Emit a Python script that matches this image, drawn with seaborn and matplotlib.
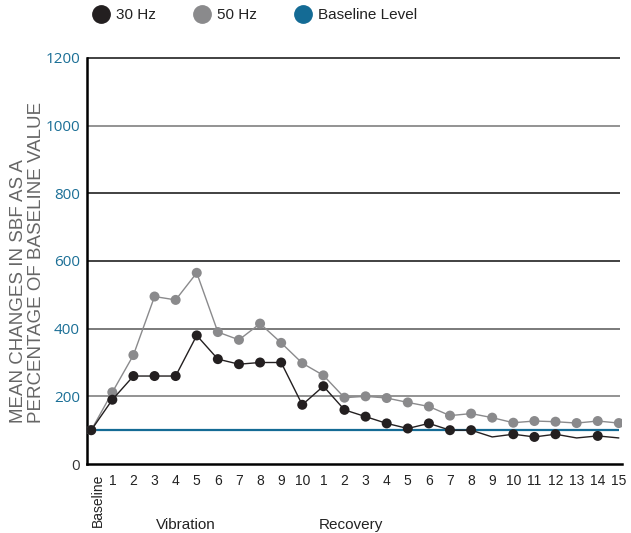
import matplotlib
matplotlib.use("Agg")
import matplotlib.pyplot as plt
import matplotlib.transforms as mtransforms
from matplotlib.lines import Line2D
import numpy as np
import pandas as pd
import seaborn as sns

# datos
tick_labels = ["Baseline"] + [str(i) for i in range(1, 11)] + [str(i) for i in range(1, 16)]
hz30 = [100, 190, 260, 260, 260, 380, 310, 295, 300, 300, 175,
        230, 160, 140, 120, 105, 120, 100, 100, 80, 88, 80, 88, 77, 83, 77]
hz50 = [100, 212, 322, 495, 485, 565, 390, 367, 415, 358, 298,
        262, 196, 200, 195, 182, 170, 143, 149, 137, 122, 127, 125, 121, 127, 121]
baseline_level = 100
# puntos de 30 Hz sin marcador en el original
sin_marcador_30 = [19, 23, 25]
y_ticks = [0, 200, 400, 600, 800, 1000, 1200]

df = pd.DataFrame({"pos": np.arange(len(tick_labels)), "hz30": hz30, "hz50": hz50})

sns.set_style("white")
plt.rcParams["font.family"] = ["Liberation Sans", "DejaVu Sans"]

fig = plt.figure(figsize=(6.31, 5.33), dpi=100)
ax = fig.add_axes([87 / 631, 1 - 464 / 533, 535 / 631, 406 / 533])

negro = "#231f20"
gris = "#8a8a8c"
azul = "#146b95"

# cuadrícula horizontal (en el original unas líneas salen más claras que otras)
colores_grid = ["#8a8a8a", "#707070", "#333333", "#333333", "#8a8a8a", "#333333"]
for y, c in zip(y_ticks[1:], colores_grid):
    ax.hlines(y, -0.2, 25.05, colors=c, linewidth=1.3, clip_on=False, zorder=1)
ax.hlines(baseline_level, 0, 25, colors=azul, linewidth=1.6, zorder=2)

sns.lineplot(data=df, x="pos", y="hz50", color=gris, linewidth=1.0, ax=ax, zorder=3)
sns.scatterplot(data=df, x="pos", y="hz50", color=gris, s=52, edgecolor="none", ax=ax, zorder=4)
sns.lineplot(data=df, x="pos", y="hz30", color=negro, linewidth=1.0, ax=ax, zorder=5)
df30 = df.drop(index=sin_marcador_30)
sns.scatterplot(data=df30, x="pos", y="hz30", color=negro, s=52, edgecolor="none", ax=ax, zorder=6)

ax.set_xlim(-0.2, 25.15)
ax.set_ylim(0, 1200)
ax.set_xlabel("")
ax.set_ylabel("")

for s in ["top", "right"]:
    ax.spines[s].set_visible(False)
for s in ["left", "bottom"]:
    ax.spines[s].set_color("black")
    ax.spines[s].set_linewidth(1.8)

ax.set_xticks(df["pos"])
ax.set_xticklabels(tick_labels, fontsize=10, color="#222222")
ax.set_yticks(y_ticks)
ax.set_yticklabels([str(v) for v in y_ticks], fontsize=11, color="#1b6f96",
                   family=["Open Sans", "DejaVu Sans"])
ax.get_yticklabels()[0].set_color("#333333")
ax.tick_params(axis="both", length=0)
ax.tick_params(axis="x", pad=7)
ax.tick_params(axis="y", pad=5)

lab0 = ax.get_xticklabels()[0]
lab0.set_rotation(90)
lab0.set_transform(lab0.get_transform() + mtransforms.ScaledTranslation(5 / 72, 0, fig.dpi_scale_trans))

ax.text(4.5, -0.15, "Vibration", transform=ax.get_xaxis_transform(), ha="center", va="center",
        fontsize=11, color="#222222")
ax.text(12.3, -0.15, "Recovery", transform=ax.get_xaxis_transform(), ha="center", va="center",
        fontsize=11, color="#222222")

fig.text(0.044, 1 - 262 / 533, "MEAN CHANGES IN SBF AS A\nPERCENTAGE OF BASELINE VALUE",
         rotation=90, ha="center", va="center", fontsize=13.5, color="#666666",
         linespacing=1.1, multialignment="left")

handles = [
    Line2D([], [], marker="o", linestyle="none", markersize=12.5, color=negro, label="30 Hz"),
    Line2D([], [], marker="o", linestyle="none", markersize=12.5, color=gris, label="50 Hz"),
    Line2D([], [], marker="o", linestyle="none", markersize=12.5, color=azul, label="Baseline Level"),
]
leg = fig.legend(handles=handles, loc="center left", bbox_to_anchor=(92 / 631, 1 - 15 / 533),
                 ncol=3, frameon=False, fontsize=11, handlelength=1.2, handletextpad=0.4,
                 columnspacing=2.4, borderpad=0, borderaxespad=0)
for t in leg.get_texts():
    t.set_color("#222222")

fig.savefig("out.png", dpi=100)
